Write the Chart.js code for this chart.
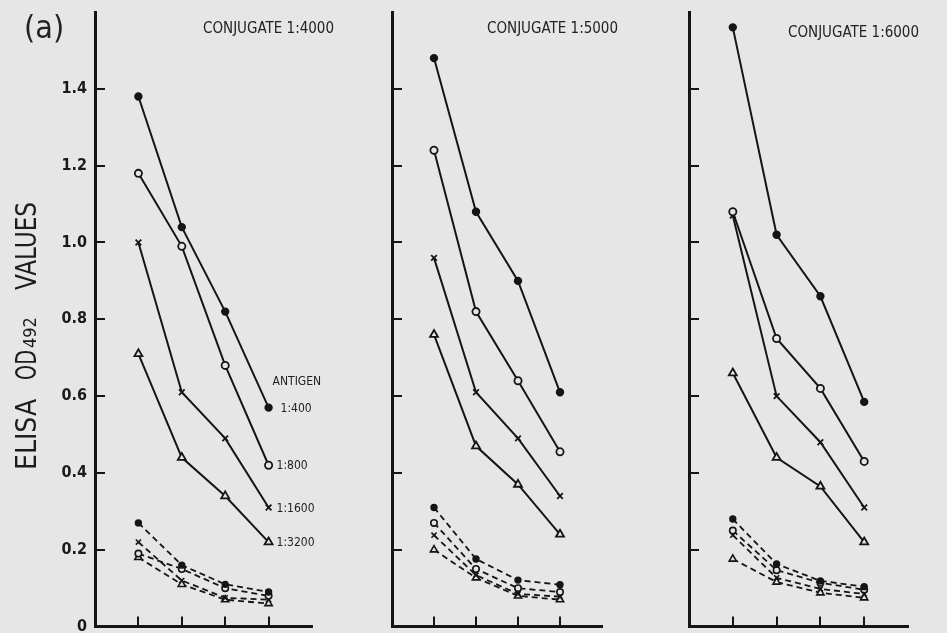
<!DOCTYPE html>
<html>
<head>
<meta charset="utf-8">
<script src="https://cdn.jsdelivr.net/npm/chart.js@4.4.1/dist/chart.umd.min.js"></script>
<style>
	html, body { margin: 0; padding: 0; background: #e6e6e6; }
	#wrap { position: relative; width: 947px; height: 633px; overflow: hidden; }
	#wrap canvas { position: absolute; left: 0; top: 0; }
</style>
</head>
<body>
<div id="wrap">
	<canvas id="p1" width="947" height="633"></canvas>
	<canvas id="p2" width="947" height="633"></canvas>
	<canvas id="p3" width="947" height="633"></canvas>
</div>
<script>
// x positions of the four dilution steps
var xSteps = [1, 2, 3, 4];

var antigenLabels = ['1:400', '1:800', '1:1600', '1:3200'];
var conjugateTitles = ['CONJUGATE 1:4000', 'CONJUGATE 1:5000', 'CONJUGATE 1:6000'];

// solid lines (test) and dashed lines (control), one row per antigen dilution
var conj4000Solid = [
	[1.38, 1.04, 0.82, 0.57],
	[1.18, 0.99, 0.68, 0.42],
	[1.00, 0.61, 0.49, 0.31],
	[0.71, 0.44, 0.34, 0.22]
];
var conj4000Dashed = [
	[0.27, 0.16, 0.11, 0.09],
	[0.19, 0.15, 0.10, 0.08],
	[0.22, 0.12, 0.075, 0.07],
	[0.18, 0.11, 0.07, 0.06]
];
var conj5000Solid = [
	[1.48, 1.08, 0.90, 0.61],
	[1.24, 0.82, 0.64, 0.455],
	[0.96, 0.61, 0.49, 0.34],
	[0.76, 0.47, 0.37, 0.24]
];
var conj5000Dashed = [
	[0.31, 0.176, 0.121, 0.109],
	[0.27, 0.15, 0.10, 0.09],
	[0.238, 0.134, 0.085, 0.078],
	[0.20, 0.127, 0.08, 0.07]
];
var conj6000Solid = [
	[1.56, 1.02, 0.86, 0.585],
	[1.08, 0.75, 0.62, 0.43],
	[1.07, 0.60, 0.48, 0.31],
	[0.66, 0.44, 0.365, 0.22]
];
var conj6000Dashed = [
	[0.28, 0.163, 0.119, 0.104],
	[0.25, 0.147, 0.114, 0.096],
	[0.238, 0.127, 0.098, 0.085],
	[0.176, 0.116, 0.088, 0.075]
];

var INK  = '#151515';
var BG   = '#e6e6e6';
var FONT = "'DejaVu Sans Condensed', 'DejaVu Sans', sans-serif";

// marker look per antigen dilution
var markers = [
	{ style : 'circle',   radius : 3.3, fill : INK },
	{ style : 'circle',   radius : 3.6, fill : BG  },
	{ style : 'crossRot', radius : 4,   fill : INK },
	{ style : 'triangle', radius : 4.6, fill : BG  }
];

function makeSets(solid, dashed) {
	var sets = [];
	solid.forEach(function (vals, i) {
		sets.push({
			label            : antigenLabels[i],
			data             : vals.map(function (v, k) { return { x : xSteps[k], y : v }; }),
			borderColor      : INK,
			borderWidth      : 2,
			pointStyle       : markers[i].style,
			pointRadius      : markers[i].radius,
			pointBackgroundColor : markers[i].fill,
			pointBorderColor : INK,
			pointBorderWidth : 1.8
		});
	});
	dashed.forEach(function (vals, i) {
		sets.push({
			label            : antigenLabels[i] + ' control',
			data             : vals.map(function (v, k) { return { x : xSteps[k], y : v }; }),
			borderColor      : INK,
			borderWidth      : 1.8,
			borderDash       : [6, 4],
			pointStyle       : markers[i].style,
			pointRadius      : markers[i].radius - 0.4,
			pointBackgroundColor : markers[i].fill,
			pointBorderColor : INK,
			pointBorderWidth : 1.6
		});
	});
	return sets;
}

// Panel decorations: inward ticks, titles, labels
function decoPlugin(idx) {
	return {
		id : 'deco' + idx,
		afterDraw : function (chart) {
			var ctx = chart.ctx, a = chart.chartArea;
			var x = chart.scales.x, y = chart.scales.y;
			ctx.save();
			ctx.strokeStyle = INK;
			ctx.lineWidth = 2;
			y.ticks.forEach(function (t) {
				if (t.value <= 0 || t.value > 1.5) return;
				var py = Math.round(y.getPixelForValue(t.value));
				ctx.beginPath(); ctx.moveTo(a.left, py); ctx.lineTo(a.left + 10, py); ctx.stroke();
			});
			xSteps.forEach(function (s) {
				var px = Math.round(x.getPixelForValue(s));
				ctx.beginPath(); ctx.moveTo(px, a.bottom); ctx.lineTo(px, a.bottom - 10); ctx.stroke();
			});

			// title
			ctx.fillStyle = '#222';
			ctx.font = '15px ' + FONT;
			ctx.textBaseline = 'middle';
			ctx.textAlign = 'left';
			var tPos = [[203, 29], [487, 29], [788, 33]][idx];
			ctx.fillText(conjugateTitles[idx], tPos[0], tPos[1]);

			if (idx === 0) {
				// antigen labels next to the last points
				ctx.font = '12px ' + FONT;
				for (var i = 0; i < 4; i++) {
					var el = chart.getDatasetMeta(i).data[3];
					ctx.fillText(antigenLabels[i], el.x + (i === 0 ? 12 : 8), el.y + 1);
					if (i === 0) ctx.fillText('ANTIGEN', el.x + 4, el.y - 26);
				}

				ctx.font = '32px ' + FONT;
				ctx.textBaseline = 'alphabetic';
				ctx.fillText('(a)', 24, 38);

				// y axis title
				ctx.fillStyle = '#1c1c1c';
				ctx.translate(36, 470);
				ctx.rotate(-Math.PI / 2);
				ctx.font = '28px ' + FONT;
				ctx.fillText('ELISA', 0, 0, 72);
				ctx.fillText('OD', 90, 0, 30);
				ctx.font = '18px ' + FONT;
				ctx.fillText('492', 122, 0, 36);
				ctx.font = '28px ' + FONT;
				ctx.fillText('VALUES', 180, 0, 88);
			}
			ctx.restore();
		}
	};
}

var panels = [
	{ id : 'p1', solid : conj4000Solid, dashed : conj4000Dashed, left : 95,  right : 312, bottom : 630 },
	{ id : 'p2', solid : conj5000Solid, dashed : conj5000Dashed, left : 392, right : 602, bottom : 628 },
	{ id : 'p3', solid : conj6000Solid, dashed : conj6000Dashed, left : 689, right : 908, bottom : 628 }
];

panels.forEach(function (p, idx) {
	var yw = idx === 0 ? p.left : 2;
	new Chart(document.getElementById(p.id), {
		type : 'line',
		data : { datasets : makeSets(p.solid, p.dashed) },
		options : {
			responsive : false,
			animation  : false,
			events     : [],
			layout : {
				padding : { left : p.left - yw, right : 947 - p.right, top : 12, bottom : 633 - p.bottom }
			},
			plugins : {
				legend  : { display : false },
				tooltip : { enabled : false }
			},
			scales : {
				x : {
					type : 'linear',
					min  : 0,
					max  : 5,
					ticks  : { display : false },
					grid   : { drawOnChartArea : false, drawTicks : false },
					border : { color : INK, width : 3 },
					afterFit : function (s) {
						s.height = 0;
						s.paddingLeft = 0; s.paddingRight = 0;
					}
				},
				y : {
					min : 0,
					max : 1.6,
					ticks : {
						display  : idx === 0,
						stepSize : 0.2,
						padding  : 8,
						color    : '#1a1a1a',
						font     : { family : FONT, size : 16, weight : 'bold' },
						callback : function (v) {
							if (v > 1.5) return '';
							return v === 0 ? '0' : v.toFixed(1);
						}
					},
					grid   : { drawOnChartArea : false, drawTicks : false },
					border : { color : INK, width : 3 },
					afterFit : function (s) {
						s.width = yw;
						s.paddingTop = 0; s.paddingBottom = 0;
					}
				}
			}
		},
		plugins : [decoPlugin(idx)]
	});
});
</script>
</body>
</html>
